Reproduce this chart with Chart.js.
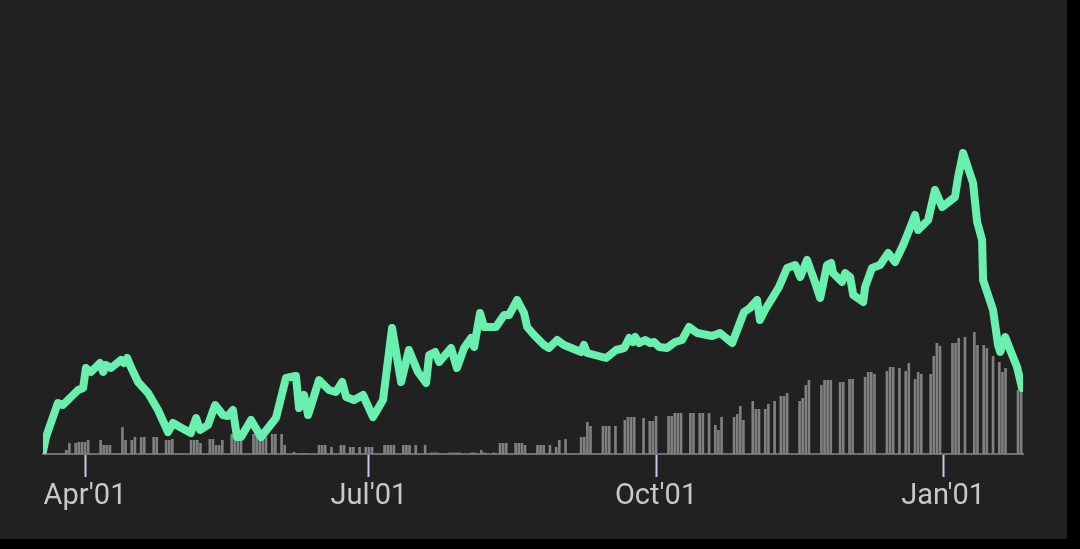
<!DOCTYPE html>
<html>
<head>
<meta charset="utf-8">
<script src="https://cdn.jsdelivr.net/npm/chart.js@4.4.0/dist/chart.umd.min.js"></script>
<style>
    html, body { margin: 0; padding: 0; background: #000; }
    #wrap { width: 1067px; height: 539px; background: #212121; }
    canvas { display: block; }
</style>
</head>
<body>
<div id="wrap"><canvas id="priceChart" width="1067" height="539"></canvas></div>
<script>
// Dias contados a partir de 1 de abril (dia 0)
const tickDays = [0, 91, 183, 275];
const tickLabels = ["Apr'01", "Jul'01", "Oct'01", "Jan'01"];

// Cotação (vértices da linha)
const priceDays = [
    -13.5, -12.5, -8.7, -7.1, -2.2, -0.6, 0.3, 1.9, 4.8, 5.8, 6.7, 8.3, 11.5, 12.5, 13.5, 14.7,
    17.0, 20.2, 23.4, 26.6, 28.2, 30.4, 33.9, 35.6, 36.9, 39.4, 41.7, 44.2, 45.8, 47.4, 48.7,
    50.0, 53.2, 56.4, 61.2, 64.4, 67.6, 68.6, 70.2, 71.5, 75.0, 78.2, 80.4, 82.4, 83.7, 86.2,
    89.1, 92.3, 95.5, 98.4, 101.3, 103.8, 106.7, 109.3, 110.3, 112.2,
    113.5, 117.3, 119.2, 121.5, 123.7, 124.7, 126.6, 127.9, 131.7, 134.3, 135.9, 138.5, 140.7,
    141.7, 143.9, 147.1, 148.7, 151.3, 153.5, 159.0, 159.9, 160.9, 167.0, 170.2, 172.8, 174.4, 175.6,
    176.3, 177.6, 179.5, 181.1, 182.4, 184.0, 186.5, 189.1, 191.3, 193.6, 196.2, 201.0, 203.5,
    207.4, 211.2, 213.1, 215.4, 216.3, 217.9, 222.4, 225.0, 227.6, 229.2, 231.4, 233.7, 235.6,
    237.8, 239.1,
    239.7, 242.6, 243.6, 245.2, 246.2, 249.4, 250.0, 252.2, 254.8, 257.4, 259.6, 262.2, 264.4,
    266.0, 267.0, 270.2, 272.4, 274.7, 278.8, 279.8, 281.4, 284.6, 285.9, 287.5, 287.8, 291.0,
    292.6, 293.3, 294.9, 296.5, 298.7, 300.3
];
const prices = [
    0.2, 1.7, 5.1, 4.9, 6.4, 6.6, 8.6, 8.2, 9.1, 8.2, 8.9, 8.6, 9.4, 9.1, 9.6, 8.7,
    7.2, 6.1, 4.4, 2.2, 3.1, 2.7, 2.1, 3.6, 2.4, 2.9, 4.9, 3.9, 3.8, 4.4, 1.7,
    1.7, 3.4, 1.7, 3.6, 7.6, 7.8, 4.6, 5.9, 3.9, 7.4, 6.4, 6.2, 7.2, 5.7, 5.4,
    5.9, 3.7, 5.4, 12.6, 7.2, 10.4, 8.2, 7.1, 9.9, 10.2,
    9.2, 10.6, 8.6, 10.6, 11.6, 10.7, 14.1, 12.7, 12.7, 13.9, 13.9, 15.4, 14.1,
    12.7, 11.9, 10.9, 10.6, 11.4, 10.9, 10.2, 10.9, 10.1, 9.6, 10.4, 10.6, 11.6, 11.2,
    11.7, 11.1, 11.4, 11.1, 11.2, 10.7, 10.6, 11.2, 11.4, 12.7, 12.1, 11.8, 12.1,
    11.1, 14.2, 14.6, 15.4, 13.4, 14.4, 16.7, 18.6, 18.9, 17.7, 19.4, 17.4, 15.6,
    18.9, 19.1,
    18.1, 17.2, 18.1, 17.7, 15.9, 15.2, 16.7, 18.6, 18.9, 20.1, 19.2, 20.9, 22.6,
    23.9, 22.4, 23.4, 26.4, 24.7, 25.7, 27.7, 30.1, 27.1, 23.2, 21.4, 17.4, 14.4,
    10.9, 10.2, 11.7, 10.4, 8.7, 6.6
];

// Volume diário, a partir do dia -13 (19 de março)
const volumeStartDay = -13;
const volumes = [
    0, 0, 0, 0, 0, 0, 0, 4, 11, 0,
    11, 12, 12, 12, 14, 0, 0, 0, 14, 9,
    9, 9, 0, 0, 0, 27, 14, 0, 14, 17,
    0, 17, 17, 0, 0, 17, 17, 0, 0, 14,
    14, 15, 0, 0, 0, 0, 0, 14, 14, 14,
    11, 0, 0, 15, 15, 9, 9, 14, 0, 0,
    20, 20, 17, 17, 0, 0, 0, 20, 20, 17,
    17, 17, 0, 20, 20, 0, 20, 9, 0, 0,
    2, 0, 1, 1, 1, 0, 0, 0, 9, 9,
    9, 0, 7, 0, 0, 9, 9, 0, 7, 7,
    0, 7, 0, 7, 7, 7, 0, 0, 0, 9,
    9, 9, 9, 0, 0, 9, 9, 9, 0, 9,
    0, 0, 9, 0, 1.5, 1.5, 1.5, 0, 0, 0,
    1.5, 1.5, 1.5, 1.5, 0, 0, 0, 1.5, 1.5, 0,
    4, 1.5, 0, 0, 1.5, 0, 11, 11, 11, 0,
    0, 11, 11, 11, 9, 0, 0, 0, 9, 9,
    9, 0, 9, 0, 7, 14, 0, 15, 0, 0,
    0, 0, 17, 17, 32, 28, 0, 0, 0, 28,
    28, 28, 0, 28, 0, 0, 34, 37, 37, 37,
    0, 0, 36, 0, 33, 33, 38, 0, 0, 0,
    38, 38, 41, 41, 41, 0, 0, 41, 41, 0,
    41, 41, 0, 41, 0, 29, 24, 37, 0, 0,
    0, 37, 40, 48, 34, 0, 0, 53, 45, 45,
    0, 45, 50, 0, 53, 0, 58, 58, 61, 0,
    0, 0, 53, 56, 69, 74, 0, 0, 0, 69,
    74, 74, 74, 0, 0, 72, 72, 0, 75, 75,
    0, 0, 0, 77, 82, 82, 80, 0, 0, 0,
    83, 87, 87, 0, 86, 0, 83, 91, 0, 75,
    82, 80, 0, 0, 80, 98, 111, 108, 0, 0,
    0, 111, 111, 116, 0, 117, 0, 0, 122, 109,
    0, 109, 106, 0, 98, 0, 92, 82, 86, 0,
    0, 0, 64, 64
];

document.addEventListener('DOMContentLoaded', function() {
    const linePoints = priceDays.map((d, i) => ({ x: d, y: prices[i] }));
    const barPoints = volumes.map((v, i) => ({ x: volumeStartDay + i, y: v }));

    const ctx = document.getElementById('priceChart').getContext('2d');
    new Chart(ctx, {
        data: {
            datasets: [{
                type: 'line',
                data: linePoints,
                yAxisID: 'price',
                borderColor: '#69f0ae',
                borderWidth: 8,
                borderJoinStyle: 'round',
                borderCapStyle: 'round',
                pointRadius: 0,
                tension: 0,
                fill: false
            }, {
                type: 'bar',
                data: barPoints,
                yAxisID: 'vol',
                backgroundColor: '#808080',
                barPercentage: 0.85,
                categoryPercentage: 1.0
            }]
        },
        options: {
            responsive: false,
            animation: false,
            devicePixelRatio: 1,
            layout: {
                padding: { left: 43, right: 44, top: 14, bottom: 0 }
            },
            plugins: {
                legend: { display: false },
                tooltip: { enabled: false }
            },
            scales: {
                x: {
                    type: 'linear',
                    position: 'bottom',
                    offset: false,
                    min: -13.46,
                    max: 300.6,
                    grid: {
                        offset: false,
                        drawOnChartArea: false,
                        drawTicks: true,
                        tickLength: 23,
                        tickWidth: 2,
                        tickColor: '#c5cae9'
                    },
                    border: { display: true, color: '#6e6e6e', width: 2 },
                    ticks: {
                        color: '#c8c8c8',
                        font: { family: 'Roboto', size: 29 },
                        padding: 2,
                        autoSkip: false,
                        maxRotation: 0,
                        callback: (value, index) => tickLabels[index]
                    },
                    afterBuildTicks: (axis) => {
                        axis.ticks = tickDays.map(v => ({ value: v }));
                    },
                    afterFit: (axis) => {
                        axis.height = 85;
                    }
                },
                price: {
                    display: false,
                    min: 0,
                    max: 44
                },
                vol: {
                    display: false,
                    min: 0,
                    max: 440
                }
            }
        }
    });
});
</script>
</body>
</html>
